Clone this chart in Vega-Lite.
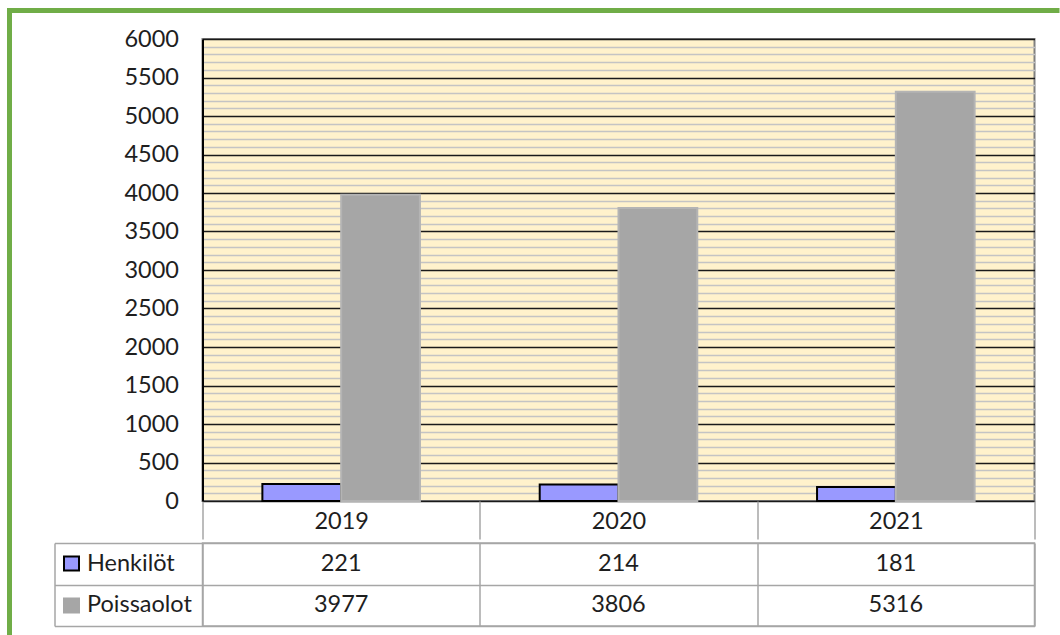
{
  "$schema": "https://vega.github.io/schema/vega-lite/v6.json",
  "background": "white",
  "padding": {"left": 7, "top": 6, "right": 0, "bottom": 0},
  "spacing": -2.5,
  "config": {
    "font": "Lato",
    "axis": {"labelFont": "Lato", "labelColor": "#1e1e1e", "titleFont": "Lato"},
    "text": {"font": "Lato"}
  },
  "datasets": {
    "d": [
      {"year": "2019", "series": "Henkilöt", "value": 221},
      {"year": "2019", "series": "Poissaolot", "value": 3977},
      {"year": "2020", "series": "Henkilöt", "value": 214},
      {"year": "2020", "series": "Poissaolot", "value": 3806},
      {"year": "2021", "series": "Henkilöt", "value": 181},
      {"year": "2021", "series": "Poissaolot", "value": 5316}
    ]
  },
  "hconcat": [
    {
      "width": 5,
      "height": 629,
      "view": {"fill": "#70ad47", "stroke": null},
      "data": {"name": "d"},
      "mark": {"type": "rect", "color": "#70ad47"},
      "encoding": {}
    },
    {
      "spacing": 0,
      "vconcat": [
        {
          "width": 857,
          "height": 5,
          "view": {"fill": "#70ad47", "stroke": null},
          "data": {"name": "d"},
          "mark": {"type": "rule", "opacity": 0},
          "encoding": {
            "y": {
              "datum": 1, "type": "quantitative",
              "scale": {"domain": [0, 2]},
              "axis": {
                "values": [1.2], "title": null, "minExtent": 0,
                "ticks": true, "tickSize": 188.5, "tickWidth": 5, "tickCap": "square", "tickColor": "#70ad47",
                "domain": false, "labels": false, "grid": false
              }
            }
          }
        },
        {
          "width": 832,
          "height": 462,
          "view": {"fill": "#fff2cc", "stroke": "#808080", "strokeWidth": 2},
          "data": {"name": "d"},
          "resolve": {"axis": {"x": "independent"}},
          "layer": [
            {
              "mark": {"type": "bar", "strokeWidth": 2},
              "encoding": {
                "x": {
                  "field": "year", "type": "nominal",
                  "scale": {"paddingInner": 0, "paddingOuter": 0},
                  "axis": {
                    "orient": "bottom", "title": null, "tickBand": "extent",
                    "ticks": true, "tickSize": 38, "tickColor": "#a6a6a6", "tickWidth": 1.5,
                    "domain": false, "grid": false,
                    "labelFontSize": 23.5, "labelBaseline": "middle", "labelPadding": -17.5, "labelAngle": 0
                  }
                },
                "xOffset": {
                  "field": "series", "type": "nominal", "sort": ["Henkilöt", "Poissaolot"],
                  "scale": {"paddingInner": 0, "paddingOuter": 0.76}
                },
                "y": {
                  "field": "value", "type": "quantitative",
                  "scale": {"domain": [0, 6000], "nice": false},
                  "axis": {
                    "title": null,
                    "values": [0,100,200,300,400,500,600,700,800,900,1000,1100,1200,1300,1400,1500,1600,1700,1800,1900,2000,2100,2200,2300,2400,2500,2600,2700,2800,2900,3000,3100,3200,3300,3400,3500,3600,3700,3800,3900,4000,4100,4200,4300,4400,4500,4600,4700,4800,4900,5000,5100,5200,5300,5400,5500,5600,5700,5800,5900,6000],
                    "format": "d",
                    "labelExpr": "datum.value % 500 === 0 ? datum.label : ''",
                    "labelOverlap": false,
                    "labelFontSize": 23.5, "labelPadding": 24,
                    "ticks": false,
                    "domain": true, "domainColor": "#000000", "domainWidth": 2,
                    "grid": true,
                    "gridColor": {"condition": {"test": "datum.value % 500 === 0", "value": "#1a1a1a"}, "value": "#c4c4c4"},
                    "gridWidth": {"condition": {"test": "datum.value % 500 === 0", "value": 1.5}, "value": 1.3},
                    "minExtent": 148, "maxExtent": 148
                  }
                },
                "color": {
                  "field": "series", "type": "nominal",
                  "scale": {"domain": ["Henkilöt", "Poissaolot"], "range": ["#9999ff", "#a6a6a6"]},
                  "legend": null
                },
                "stroke": {
                  "field": "series", "type": "nominal",
                  "scale": {"domain": ["Henkilöt", "Poissaolot"], "range": ["#000000", "#b4b4b4"]},
                  "legend": null
                }
              }
            },
            {
              "mark": {"type": "bar", "opacity": 0},
              "encoding": {
                "x": {
                  "field": "year", "type": "nominal",
                  "axis": {
                    "orient": "top", "offset": 24, "title": null,
                    "domain": true, "domainColor": "transparent", "domainWidth": 1,
                    "ticks": false, "labels": false, "grid": false
                  }
                }
              }
            }
          ]
        },
        {
          "width": 832,
          "height": 83,
          "view": {"stroke": "#a6a6a6", "strokeWidth": 1.5},
          "data": {"name": "d"},
          "resolve": {"axis": {"y": "independent"}},
          "layer": [
            {
              "mark": {"type": "text", "fontSize": 23.5, "color": "#1e1e1e"},
              "encoding": {
                "x": {
                  "field": "year", "type": "nominal",
                  "scale": {"paddingInner": 0, "paddingOuter": 0},
                  "axis": {
                    "title": null, "tickBand": "extent", "grid": true, "gridColor": "#a6a6a6", "gridWidth": 1.5,
                    "labels": false, "ticks": false, "domain": false
                  }
                },
                "y": {
                  "field": "series", "type": "nominal", "sort": ["Henkilöt", "Poissaolot"],
                  "scale": {"paddingInner": 0, "paddingOuter": 0},
                  "axis": {
                    "orient": "left", "title": null, "offset": 148, "minExtent": 0,
                    "domain": true, "domainColor": "#a6a6a6", "domainWidth": 1.5,
                    "ticks": true, "tickSize": -25, "tickWidth": 16, "tickCap": "butt",
                    "tickDash": [0, 8, 17, 300],
                    "tickColor": {"condition": {"test": "datum.value === 'Henkilöt'", "value": "#000000"}, "value": "#a6a6a6"},
                    "labels": true, "labelAlign": "left", "labelPadding": -7, "labelFontSize": 23.5
                  }
                },
                "text": {"field": "value", "type": "quantitative"}
              }
            },
            {
              "mark": {"type": "text", "opacity": 0},
              "encoding": {
                "x": {"field": "year", "type": "nominal"},
                "y": {
                  "field": "series", "type": "nominal", "sort": ["Henkilöt", "Poissaolot"],
                  "axis": {
                    "orient": "left", "title": null, "offset": 148, "minExtent": 0,
                    "domain": false, "labels": false,
                    "ticks": true, "tickSize": -23, "tickWidth": 12, "tickCap": "butt",
                    "tickDash": [0, 10, 13, 300],
                    "tickColor": {"condition": {"test": "datum.value === 'Henkilöt'", "value": "#9999ff"}, "value": "transparent"}
                  }
                },
                "text": {"field": "value", "type": "quantitative"}
              }
            },
            {
              "mark": {"type": "text", "opacity": 0},
              "encoding": {
                "x": {"field": "year", "type": "nominal"},
                "y": {
                  "field": "series", "type": "nominal", "sort": ["Henkilöt", "Poissaolot"],
                  "axis": {
                    "orient": "left", "title": null, "minExtent": 0, "tickBand": "extent",
                    "domain": false, "labels": false,
                    "ticks": true, "tickSize": 148, "tickWidth": 1.5, "tickColor": "#a6a6a6",
                    "grid": true, "gridColor": "#a6a6a6", "gridWidth": 1.5
                  }
                },
                "text": {"field": "value", "type": "quantitative"}
              }
            }
          ]
        }
      ]
    }
  ]
}
